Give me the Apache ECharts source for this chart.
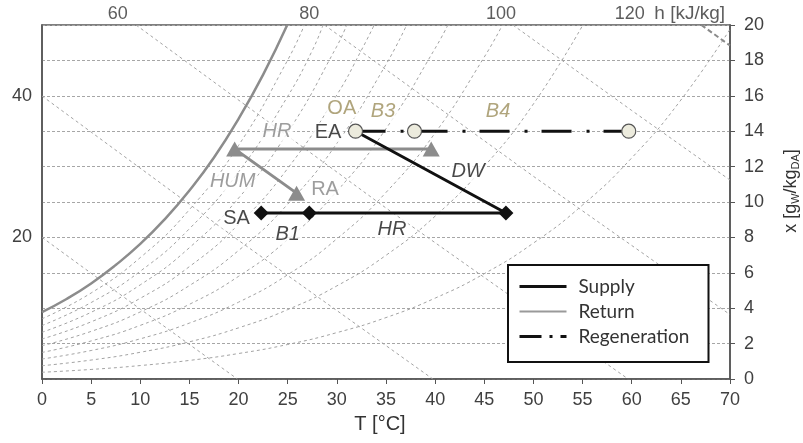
<!DOCTYPE html>
<html>
<head>
<meta charset="utf-8">
<script src="https://cdn.jsdelivr.net/npm/echarts@6/dist/echarts.min.js"></script>
<style>html,body{margin:0;padding:0;background:#fff;}#c{width:803px;height:443px;}</style>
</head>
<body>
<div id="c"></div>
<script>
// ---- axis ticks ----
const tTicksInterval = 5;      // T [°C]
const xTicksInterval = 2;      // x [g/kg]
// enthalpy labels on left axis (at x value) and along top (at T value)
const hLeftAt = [8, 16];
const hLeftText = ['20', '40'];
const hTopT = [7.7, 27.2, 46.7, 59.8, 65.9];
const hTopText = ['60', '80', '100', '120', 'h [kJ/kg]'];

// ---- relative humidity curves [T, x] ----
const rh100 = [[0,3.78],[2.5,4.52],[5,5.40],[7.5,6.44],[10,7.63],[12.5,9.03],[15,10.65],[17.5,12.51],[20,14.70],[22.5,17.20],[24.95,20]];
const rh90 = [[0,3.40],[5,4.86],[10,6.86],[15,9.57],[20,13.20],[25,18.02],[26.7,20]];
const rh80 = [[0,3.02],[5,4.32],[10,6.09],[15,8.49],[20,11.70],[25,15.97],[27.5,18.56],[28.6,20]];
const rh70 = [[0,2.64],[5,3.77],[10,5.32],[15,7.42],[20,10.22],[25,13.93],[30,18.80],[31.0,20]];
const rh60 = [[0,2.26],[5,3.23],[10,4.56],[15,6.35],[20,8.74],[25,11.90],[30,16.05],[32.5,18.58],[33.8,20]];
const rh50 = [[0,1.88],[5,2.69],[10,3.79],[15,5.28],[20,7.26],[25,9.88],[30,13.31],[35,17.77],[37.1,20]];
const rh40 = [[0,1.50],[5,2.15],[10,3.03],[15,4.22],[20,5.80],[25,7.88],[30,10.61],[35,14.14],[40,18.68],[41.3,20]];
const rh30 = [[0,1.13],[5,1.61],[10,2.27],[15,3.16],[20,4.34],[25,5.89],[30,7.92],[35,10.54],[40,13.90],[45,18.19],[46.85,20]];
const rh20 = [[0,0.75],[5,1.07],[10,1.51],[15,2.10],[20,2.89],[25,3.92],[30,5.26],[35,6.99],[40,9.20],[45,12.01],[50,15.54],[55,19.97]];
const rh10 = [[0,0.38],[5,0.54],[10,0.76],[15,1.05],[20,1.44],[25,1.95],[30,2.62],[35,3.47],[40,4.57],[45,5.95],[50,7.68],[55,9.83],[60,12.49],[65,15.76],[70,19.76]];

// ---- enthalpy lines [T, x] ----
const h20 = [[0,8.00],[10,3.95],[19.88,0]];
const h40 = [[0,15.99],[20,7.83],[39.76,0]];
const h60 = [[9.57,20],[35,9.66],[59.64,0]];
const h80 = [[28.74,20],[50,11.45],[70,3.64]];
const h100 = [[47.91,20],[60,15.17],[70,11.24]];
const h120 = [[67.08,20],[70,18.84]];

// ---- process states ----
const supplyT = [31.9, 47.2, 27.2, 22.3];
const supplyX = [14.0, 9.38, 9.38, 9.38];
const returnT = [25.9, 19.6, 39.6];
const returnX = [10.5, 13.0, 13.0];
const regenT = [31.9, 37.9, 59.7];
const regenX = [14.0, 14.0, 14.0];

// ---- annotations ----
const annText = ['OA','B3','B4','HR','EA','DW','HUM','RA','SA','B1','HR'];
const annT    = [30.5, 34.7, 46.4, 23.9, 29.1, 43.35, 19.4, 28.8, 19.8, 25.0, 35.6];
const annX    = [15.3, 15.1, 15.1, 13.97, 13.94, 11.7, 11.15, 10.68, 9.07, 8.14, 8.47];
const annKind = ['olive','oliveI','oliveI','grayI','black','blackI','grayI','gray','black','blackI','blackI'];

const kindStyle = {
  olive: {color:'#9c8f5c', fontStyle:'normal'},
  oliveI: {color:'#9c8f5c', fontStyle:'italic'},
  gray: {color:'#848484', fontStyle:'normal'},
  grayI: {color:'#848484', fontStyle:'italic'},
  black: {color:'#1a1a1a', fontStyle:'normal'},
  blackI: {color:'#1a1a1a', fontStyle:'italic'}
};

const FONT = 'Liberation Sans, Arial, sans-serif';
const bgDash = {color:'#a3a3a3', width:1, type:[3,3]};

function bgLine(data, extra) {
  return Object.assign({
    type:'line', data:data, symbol:'none', silent:true, z:1,
    smooth:0.5,
    lineStyle:Object.assign({}, bgDash), emphasis:{disabled:true}
  }, extra || {});
}

const series = [];
[rh90, rh80, rh70, rh60, rh50, rh40, rh30, rh20, rh10].forEach(d => series.push(bgLine(d)));
[h20, h40, h60, h80, h100].forEach(d => series.push(bgLine(d, {smooth:false})));
series.push(bgLine(h120, {smooth:false, lineStyle:{color:'#8a8a8a', width:2, type:[5,3]}}));
series.push(bgLine(rh100, {z:2, lineStyle:{color:'#8c8c8c', width:2.5, type:'solid'}}));

// annotations
series.push({
  type:'scatter', silent:true, z:3, symbolSize:0,
  data: annText.map((t,i) => ({
    value:[annT[i], annX[i]],
    label:{show:true, position:'inside', formatter:t, fontFamily:FONT, fontSize:20,
      color:kindStyle[annKind[i]].color, fontStyle:kindStyle[annKind[i]].fontStyle,
      backgroundColor:'#fff', padding:[0,2]}
  }))
});

// top enthalpy labels
series.push({
  type:'scatter', silent:true, z:3, symbolSize:0, clip:false,
  data: hTopT.map((t,i) => ({value:[t, 20], label:{show:true, position:'top', distance:2,
    formatter:hTopText[i], fontFamily:FONT, fontSize:i===4?19:18, color:'#333'}}))
});

series.push({
  type:'line', name:'Supply', z:6, symbol:'diamond', symbolSize:15,
  data: supplyT.map((t,i) => ({value:[t, supplyX[i]], symbol: i===0 ? 'none' : 'diamond'})),
  lineStyle:{color:'#111', width:3}, itemStyle:{color:'#111'}, emphasis:{disabled:true}
});
series.push({
  type:'line', name:'Return', z:5, symbol:'triangle', symbolSize:[17,15],
  data: returnT.map((t,i) => [t, returnX[i]]),
  lineStyle:{color:'#8c8c8c', width:3}, itemStyle:{color:'#8c8c8c'}, emphasis:{disabled:true}
});
series.push({
  type:'line', name:'Regeneration', z:7, symbol:'circle', symbolSize:14,
  data: regenT.map((t,i) => [t, regenX[i]]),
  lineStyle:{color:'#111', width:3, type:[30,15,3,14]},
  itemStyle:{color:'#ecebdd', borderColor:'#555', borderWidth:1.2}, emphasis:{disabled:true}
});

const noSym = {color:'rgba(0,0,0,0)', borderWidth:0};
const chart = echarts.init(document.getElementById('c'), null, {renderer:'canvas'});
chart.setOption({
  animation:false,
  backgroundColor:'#fff',
  grid:{left:42, right:73, top:25, bottom:64, show:true, borderColor:'#555', borderWidth:1.5,
    containLabel:false, outerBoundsMode:'none'},
  legend:{
    orient:'vertical', left:508, top:265, padding:[9,15,13,10], itemGap:0,
    itemWidth:47, itemHeight:14, borderColor:'#111', borderWidth:2, backgroundColor:'#fff',
    selectedMode:false, z:20,
    textStyle:{fontFamily:'Lato, Open Sans, sans-serif', fontSize:19, color:'#333', lineHeight:25, width:115, padding:[0,0,0,7]},
    data:[
      {name:'Supply', itemStyle:noSym, lineStyle:{color:'#111', width:3}},
      {name:'Return', itemStyle:noSym, lineStyle:{color:'#9a9a9a', width:2}},
      {name:'Regeneration', itemStyle:noSym, lineStyle:{color:'#111', width:3, type:[22,8,3,8]}}
    ]
  },
  xAxis:[{
    type:'value', min:0, max:70, interval:tTicksInterval, position:'bottom',
    axisLine:{show:true, onZero:false, lineStyle:{color:'#555', width:1.5}},
    axisTick:{show:true, length:5, lineStyle:{color:'#555'}},
    axisLabel:{fontFamily:FONT, fontSize:18, color:'#404040', margin:12},
    splitLine:{show:false},
    name:'T [°C]', nameLocation:'middle', nameGap:35,
    nameTextStyle:{fontFamily:FONT, fontSize:20, color:'#333', padding:[0,12,0,0]}
  }],
  yAxis:[{
    type:'value', min:0, max:20, interval:xTicksInterval, position:'right',
    axisLine:{show:true, onZero:false, lineStyle:{color:'#555', width:1.5}},
    axisTick:{show:true, length:5, lineStyle:{color:'#555'}},
    axisLabel:{fontFamily:FONT, fontSize:18, color:'#404040', margin:14},
    splitLine:{show:true, lineStyle:{color:'#a6a6a6', width:1, type:[3,2]}},
    name:'x [g{s|W}/kg{s|DA}]', nameLocation:'middle', nameGap:51, nameRotate:90,
    nameTextStyle:{fontFamily:FONT, fontSize:18, color:'#333', lineHeight:20, padding:[0,0,0,22],
      rich:{s:{fontFamily:FONT, fontSize:11, lineHeight:11, verticalAlign:'bottom', color:'#333'}}}
  },{
    type:'value', min:0, max:20, interval:xTicksInterval, position:'left',
    axisLine:{show:true, onZero:false, lineStyle:{color:'#555', width:1.5}},
    axisTick:{show:false},
    axisLabel:{fontFamily:FONT, fontSize:18, color:'#404040', margin:10,
      formatter:v => { const i = hLeftAt.indexOf(v); return i >= 0 ? hLeftText[i] : ''; }},
    splitLine:{show:false}
  }],
  series: series
});
</script>
</body>
</html>
